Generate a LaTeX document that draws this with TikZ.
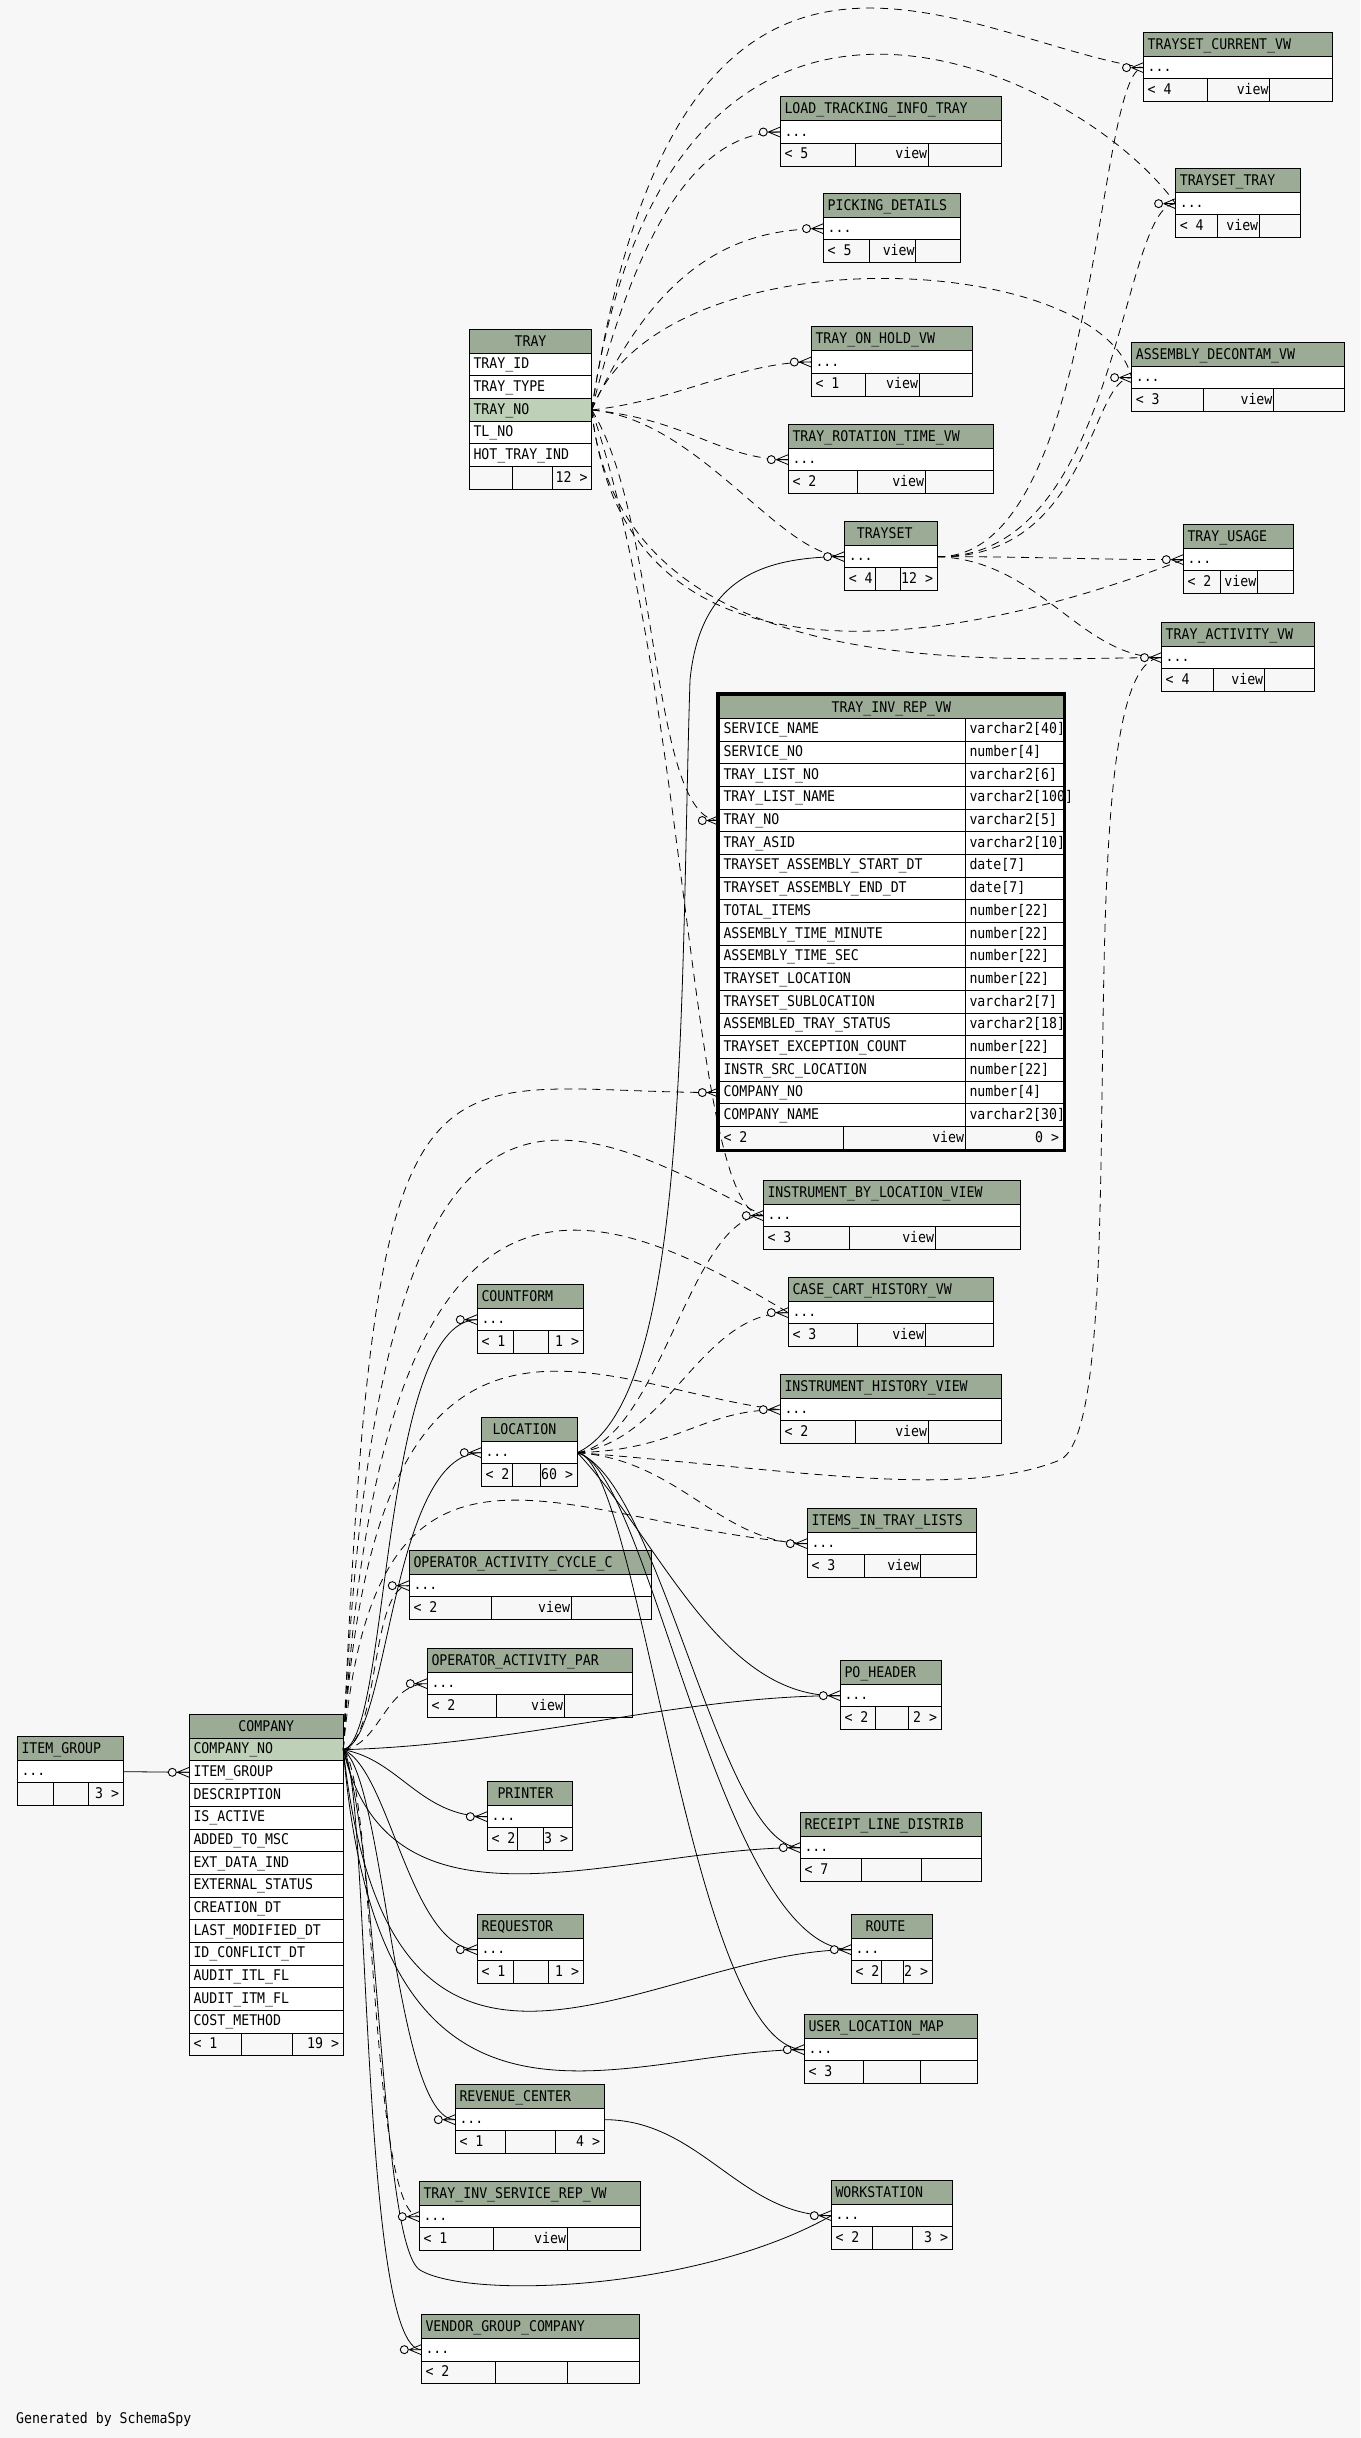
\documentclass[tikz,border=0pt]{standalone}
\usepackage{fontspec}
\setmainfont[FakeStretch=0.9]{DejaVu Sans Mono}
\usepackage{tikz}
\usetikzlibrary{positioning,calc}
\definecolor{cBack}{HTML}{F7F7F7}
\definecolor{cHead}{HTML}{9BAB96}
\definecolor{cKey}{HTML}{BED1B8}
\tikzset{
  tbl-text/.style={anchor=base west,inner sep=0pt,font=\fontsize{14.7}{16}\selectfont},
  tbl-head/.style={draw=black,fill=cHead,line width=1pt},
  tbl-row/.style={draw=black,fill=white,line width=1pt,anchor=north west,
    inner sep=0pt,outer sep=0pt,minimum height=22.67pt},
  tbl-foot/.style={draw=black,line width=1pt},
  rel/.style={draw=black,line width=0.8pt},
  rel-imp/.style={rel,dash pattern=on 8pt off 6pt},
  % zero-or-many end: open circle + crow's foot
  crowodot/.pic={
    \draw[line width=0.8pt] (-12pt,0) -- (0,5pt) (-12pt,0) -- (0,-5pt) (-12pt,0) -- (0,0);
    \filldraw[line width=0.9pt,fill=cBack] (-17pt,0) circle (4pt);
  },
}
% #1 name  #2 left  #3 top  #4,#5 footer splits  #6 right  #7 title  #8,#9 footer texts
\newcommand\tbl[9]{%
  \filldraw[tbl-head] (#2,#3) rectangle (#6,#3+24);
  \node[tbl-text] at (#2+4,#3+17) {#7};
  \node[tbl-row,minimum width=#6-#2] (#1) at (#2,#3+24) {};
  \node[tbl-text] at (#2+4,#3+39.5) {...};
  \draw[tbl-foot] (#2,#3+46.67) rectangle (#6,#3+69.33)
    (#4,#3+46.67) -- (#4,#3+69.33) (#5,#3+46.67) -- (#5,#3+69.33);
  \node[tbl-text] at (#2+4,#3+62) {#8};
  \node[tbl-text,anchor=base east] at (#6-4,#3+62) {#9};
}
\newcommand\vw[8]{%
  \tbl{#1}{#2}{#3}{#4}{#5}{#6}{#7}{#8}{}%
  \node[tbl-text,anchor=base east] at (#5-1,#3+62) {view};
}

\begin{document}
\begin{tikzpicture}[x=1pt,y=-1pt]
  \useasboundingbox (0,0) rectangle (1360,2438);
  \fill[cBack] (0,0) rectangle (1360,2438);

  % TRAY
  \filldraw[tbl-head] (469.3,329.3) rectangle (591.7,353.3);
  \node[tbl-text,anchor=base] at (530.5,346.3) {TRAY};
  \foreach \c/\f/\n [count=\i from 0] in {TRAY\_ID/white/tray-id,TRAY\_TYPE/white/tray-type,
      TRAY\_NO/cKey/tray-no,TL\_NO/white/tray-tl,HOT\_TRAY\_IND/white/tray-hot}{
    \node[tbl-row,fill=\f,minimum width=122.4] (\n) at (469.3,353.3+\i*22.67) {};
    \node[tbl-text] at (473.3,368.8+\i*22.67) {\c};
  }
  \draw[tbl-foot] (469.3,466.7) rectangle (591.7,489.3) (512,466.7) -- (512,489.3)
    (552,466.7) -- (552,489.3);
  \node[tbl-text,anchor=base east] at (587.7,482) {12 >};

  % COMPANY
  \filldraw[tbl-head] (189.3,1714.3) rectangle (343.3,1738.3);
  \node[tbl-text,anchor=base] at (266.3,1731.3) {COMPANY};
  \foreach \c/\f/\n [count=\i from 0] in {COMPANY\_NO/cKey/co-no,ITEM\_GROUP/white/co-ig,
      DESCRIPTION/white/co-desc,IS\_ACTIVE/white/co-act,ADDED\_TO\_MSC/white/co-msc,
      EXT\_DATA\_IND/white/co-ext,EXTERNAL\_STATUS/white/co-stat,CREATION\_DT/white/co-cdt,
      LAST\_MODIFIED\_DT/white/co-mdt,ID\_CONFLICT\_DT/white/co-idc,
      AUDIT\_ITL\_FL/white/co-itl,AUDIT\_ITM\_FL/white/co-itm,COST\_METHOD/white/co-cost}{
    \node[tbl-row,fill=\f,minimum width=154] (\n) at (189.3,1738.3+\i*22.67) {};
    \node[tbl-text] at (193.3,1753.8+\i*22.67) {\c};
  }
  \draw[tbl-foot] (189.3,2033) rectangle (343.3,2055.7) (241.3,2033) -- (241.3,2055.7)
    (292.3,2033) -- (292.3,2055.7);
  \node[tbl-text] at (193.3,2048.5) {< 1};
  \node[tbl-text,anchor=base east] at (339.3,2048.5) {19 >};

  % TRAY_INV_REP_VW
  \filldraw[tbl-head] (719.3,695) rectangle (1063.3,718.5);
  \node[tbl-text,anchor=base] at (891.3,712) {TRAY\_INV\_REP\_VW};
  \foreach \c/\t [count=\i] in {SERVICE\_NAME/varchar2[40],SERVICE\_NO/number[4],
      TRAY\_LIST\_NO/varchar2[6],TRAY\_LIST\_NAME/varchar2[100],TRAY\_NO/varchar2[5],
      TRAY\_ASID/varchar2[10],TRAYSET\_ASSEMBLY\_START\_DT/date[7],
      TRAYSET\_ASSEMBLY\_END\_DT/date[7],TOTAL\_ITEMS/number[22],
      ASSEMBLY\_TIME\_MINUTE/number[22],ASSEMBLY\_TIME\_SEC/number[22],
      TRAYSET\_LOCATION/number[22],TRAYSET\_SUBLOCATION/varchar2[7],
      ASSEMBLED\_TRAY\_STATUS/varchar2[18],TRAYSET\_EXCEPTION\_COUNT/number[22],
      INSTR\_SRC\_LOCATION/number[22],COMPANY\_NO/number[4],COMPANY\_NAME/varchar2[30]}{
    \node[tbl-row,minimum width=344] (rep-\i) at (719.3,695.83+\i*22.67) {};
    \draw[tbl-foot] (965.3,695.83+\i*22.67) -- ++(0,22.67);
    \node[tbl-text] at (723.3,711.3+\i*22.67) {\c};
    \node[tbl-text] at (969.3,711.3+\i*22.67) {\t};
  }
  \draw[tbl-foot] (719.3,1126.6) rectangle (1063.3,1149.2) (843.3,1126.6) -- (843.3,1149.2)
    (965.3,1126.6) -- (965.3,1149.2);
  \node[tbl-text] at (723.3,1142) {< 2};
  \node[tbl-text,anchor=base east] at (964.3,1142) {view};
  \node[tbl-text,anchor=base east] at (1059.3,1142) {0 >};
  \draw[line width=3pt] (717.7,693.3) rectangle (1064.6,1150.8);

  \vw{tsc}{1143.5}{32.3}{1207.4}{1269.8}{1332.5}{TRAYSET\_CURRENT\_VW}{< 4}
  \vw{ltit}{780.3}{96.7}{855.3}{928.4}{1001.5}{LOAD\_TRACKING\_INFO\_TRAY}{< 5}
  \vw{pick}{823.5}{193.3}{869.5}{915.8}{960.2}{PICKING\_DETAILS}{< 5}
  \vw{tstray}{1175.6}{168.3}{1217.3}{1259.4}{1300.4}{TRAYSET\_TRAY}{< 4}
  \vw{adv}{1131.6}{342.3}{1203.5}{1273.6}{1344.4}{ASSEMBLY\_DECONTAM\_VW}{< 3}
  \vw{hold}{811.3}{326.7}{865.2}{919.2}{972.4}{TRAY\_ON\_HOLD\_VW}{< 1}
  \vw{rot}{788.3}{424.3}{857.6}{925.3}{993.4}{TRAY\_ROTATION\_TIME\_VW}{< 2}
  \tbl{trayset}{844.6}{521.3}{875.2}{900.5}{937.2}{\hspace{8pt}TRAYSET}{< 4}{12 >}
  \vw{usage}{1183.3}{524.3}{1220.8}{1257.5}{1293.5}{TRAY\_USAGE}{< 2}
  \vw{act}{1161.5}{622.3}{1213.5}{1264.4}{1314.9}{TRAY\_ACTIVITY\_VW}{< 4}
  \vw{iblv}{763.3}{1180.3}{849.3}{935.3}{1020.7}{INSTRUMENT\_BY\_LOCATION\_VIEW}{< 3}
  \vw{cchv}{788.3}{1277.3}{857.3}{925.3}{993.3}{CASE\_CART\_HISTORY\_VW}{< 3}
  \vw{ihv}{780.3}{1374.3}{855.3}{928.3}{1001.3}{INSTRUMENT\_HISTORY\_VIEW}{< 2}
  \vw{itl}{807.3}{1508.3}{864.3}{920.3}{976.3}{ITEMS\_IN\_TRAY\_LISTS}{< 3}
  \tbl{cntf}{477.3}{1284.3}{513.3}{548.7}{583.3}{COUNTFORM}{< 1}{1 >}
  \tbl{loc}{481.3}{1417.3}{512.3}{540.3}{577.3}{\hspace{7pt}LOCATION}{< 2}{60 >}
  \vw{oacc}{409.3}{1550.3}{491.3}{571.3}{651.3}{OPERATOR\_ACTIVITY\_CYCLE\_C}{< 2}
  \vw{oap}{427.3}{1648.3}{496.3}{564.3}{632.3}{OPERATOR\_ACTIVITY\_PAR}{< 2}
  \tbl{po}{840.3}{1660.3}{875.3}{908.7}{941.3}{PO\_HEADER}{< 2}{2 >}
  \tbl{rld}{800.3}{1812.3}{861.3}{921.3}{981.3}{RECEIPT\_LINE\_DISTRIB}{< 7}{}
  \tbl{route}{851.3}{1914.3}{881.3}{903.3}{932.3}{\hspace{10pt}ROUTE}{< 2}{2 >}
  \tbl{ulm}{804.3}{2014.3}{863.3}{920.3}{977.3}{USER\_LOCATION\_MAP}{< 3}{}
  \tbl{prn}{487.3}{1781.3}{517.3}{543.3}{572.3}{\hspace{6pt}PRINTER}{< 2}{3 >}
  \tbl{req}{477.3}{1914.3}{513.3}{548.3}{583.3}{REQUESTOR}{< 1}{1 >}
  \tbl{rev}{455.3}{2084.3}{505.3}{555.3}{604.3}{REVENUE\_CENTER}{< 1}{4 >}
  \vw{tisr}{419.3}{2181.3}{493.3}{567.3}{640.3}{TRAY\_INV\_SERVICE\_REP\_VW}{< 1}
  \tbl{ws}{831.3}{2180.3}{872.3}{912.3}{952.3}{WORKSTATION}{< 2}{3 >}
  \tbl{vgc}{421.3}{2314.3}{495.3}{567.3}{639.3}{VENDOR\_GROUP\_COMPANY}{< 2}{}
  \tbl{igrp}{17.3}{1736.3}{53.3}{88.3}{123.3}{ITEM\_GROUP}{}{3 >}

  % from TRAY.TRAY_NO
  \draw[rel-imp] (tray-no.east) .. controls (680,-170) and (960,40) .. (tsc.west);
  \draw[rel-imp] (tray-no.east) .. controls (670,-130) and (1080,70) .. (tstray.west);
  \draw[rel-imp] (tray-no.east) .. controls (660,230) and (1100,250) .. (adv.west);
  \draw[rel-imp] (tray-no.east) .. controls (640,220) and (700,132) .. (ltit.west);
  \draw[rel-imp] (tray-no.east) .. controls (660,260) and (740,228.6) .. (pick.west);
  \draw[rel-imp] (tray-no.east) .. controls (680,400) and (740,362) .. (hold.west);
  \draw[rel-imp] (tray-no.east) .. controls (690,420) and (720,459.6) .. (rot.west);
  \draw[rel-imp] (tray-no.east) .. controls (700,420) and (780,556.6) .. (trayset.west);
  \draw[rel-imp] (tray-no.east) .. controls (630,760) and (1080,600) .. (usage.west);
  \draw[rel-imp] (tray-no.east) .. controls (620,690) and (1000,657.6) .. (act.west);
  \draw[rel-imp] (tray-no.east) .. controls (660,520) and (650,820.5) .. (rep-5.west);
  \draw[rel-imp] (tray-no.east) .. controls (690,700) and (690,1215.6) .. (iblv.west);

  % from TRAYSET
  \draw[rel-imp] (trayset.east) .. controls (1100,560) and (1095,67.6) .. (tsc.west);
  \draw[rel-imp] (trayset.east) .. controls (1120,560) and (1120,203.6) .. (tstray.west);
  \draw[rel-imp] (trayset.east) .. controls (1090,560) and (1090,377.6) .. (adv.west);
  \draw[rel-imp] (trayset.east) .. controls (1040,556.6) and (1080,559.6) .. (usage.west);
  \draw[rel-imp] (trayset.east) .. controls (1040,560) and (1080,657.6) .. (act.west);

  % from LOCATION
  \draw[rel] (loc.east) .. controls (690,1400) and (680,1000) .. (690,680)
    .. controls (700,580) and (760,556.6) .. (trayset.west);
  \draw[rel-imp] (loc.east) .. controls (660,1440) and (690,1215.6) .. (iblv.west);
  \draw[rel-imp] (loc.east) .. controls (670,1440) and (700,1312.6) .. (cchv.west);
  \draw[rel-imp] (loc.east) .. controls (680,1450) and (700,1409.6) .. (ihv.west);
  \draw[rel-imp] (loc.east) .. controls (680,1460) and (720,1543.6) .. (itl.west);
  \draw[rel-imp] (loc.east) .. controls (800,1470) and (960,1500) .. (1060,1460)
    .. controls (1140,1420) and (1060,657.6) .. (act.west);
  \draw[rel] (loc.east) .. controls (660,1540) and (720,1700) .. (po.west);
  \draw[rel] (loc.east) .. controls (660,1480) and (720,1847.6) .. (rld.west);
  \draw[rel] (loc.east) .. controls (650,1470) and (720,1949.6) .. (route.west);
  \draw[rel] (loc.east) .. controls (640,1460) and (690,2049.6) .. (ulm.west);

  % from COMPANY.COMPANY_NO
  \draw[rel] (co-no.east) .. controls (390,1740) and (380,1319.6) .. (cntf.west);
  \draw[rel] (co-no.east) .. controls (390,1740) and (390,1452.6) .. (loc.west);
  \draw[rel-imp] (co-no.east) .. controls (380,1740) and (370,1585.6) .. (oacc.west);
  \draw[rel-imp] (co-no.east) .. controls (380,1745) and (385,1683.6) .. (oap.west);
  \draw[rel] (co-no.east) .. controls (400,1760) and (420,1816.6) .. (prn.west);
  \draw[rel] (co-no.east) .. controls (390,1770) and (410,1949.6) .. (req.west);
  \draw[rel] (co-no.east) .. controls (385,1780) and (395,2119.6) .. (rev.west);
  \draw[rel-imp] (co-no.east) .. controls (375,1780) and (370,2216.6) .. (tisr.west);
  \draw[rel] (co-no.east) .. controls (370,1780) and (360,2349.6) .. (vgc.west);
  \draw[rel] (co-no.east) .. controls (520,1745) and (680,1695.6) .. (po.west);
  \draw[rel] (co-no.east) .. controls (390,1950) and (620,1847.6) .. (rld.west);
  \draw[rel] (co-no.east) .. controls (390,2180) and (650,1949.6) .. (route.west);
  \draw[rel] (co-no.east) .. controls (380,2190) and (620,2049.6) .. (ulm.west);
  \draw[rel] (co-no.east) .. controls (380,1850) and (380,2245) .. (420,2270)
    .. controls (470,2300) and (700,2290) .. (ws.west);
  \draw[rel-imp] (co-no.east) .. controls (375,1000) and (420,1092.6) .. (rep-17.west);
  \draw[rel-imp] (co-no.east) .. controls (375,1000) and (560,1110) .. (iblv.west);
  \draw[rel-imp] (co-no.east) .. controls (380,1100) and (600,1200) .. (cchv.west);
  \draw[rel-imp] (co-no.east) .. controls (375,1230) and (600,1390) .. (ihv.west);
  \draw[rel-imp] (co-no.east) .. controls (375,1380) and (560,1525) .. (itl.west);

  \draw[rel] (igrp.east) -- (co-ig.west);
  \draw[rel] (rev.east) .. controls (700,2119.6) and (740,2215.6) .. (ws.west);

  \foreach \n in {tsc,ltit,pick,tstray,adv,hold,rot,trayset,usage,act,rep-5,rep-17,
      iblv,cchv,ihv,itl,cntf,loc,oacc,oap,po,rld,route,ulm,prn,req,rev,tisr,ws,vgc,co-ig}
    \pic at (\n.west) {crowodot};

  \node[tbl-text] (gen) at (16,2423) {Generated by SchemaSpy};
\end{tikzpicture}
\end{document}
